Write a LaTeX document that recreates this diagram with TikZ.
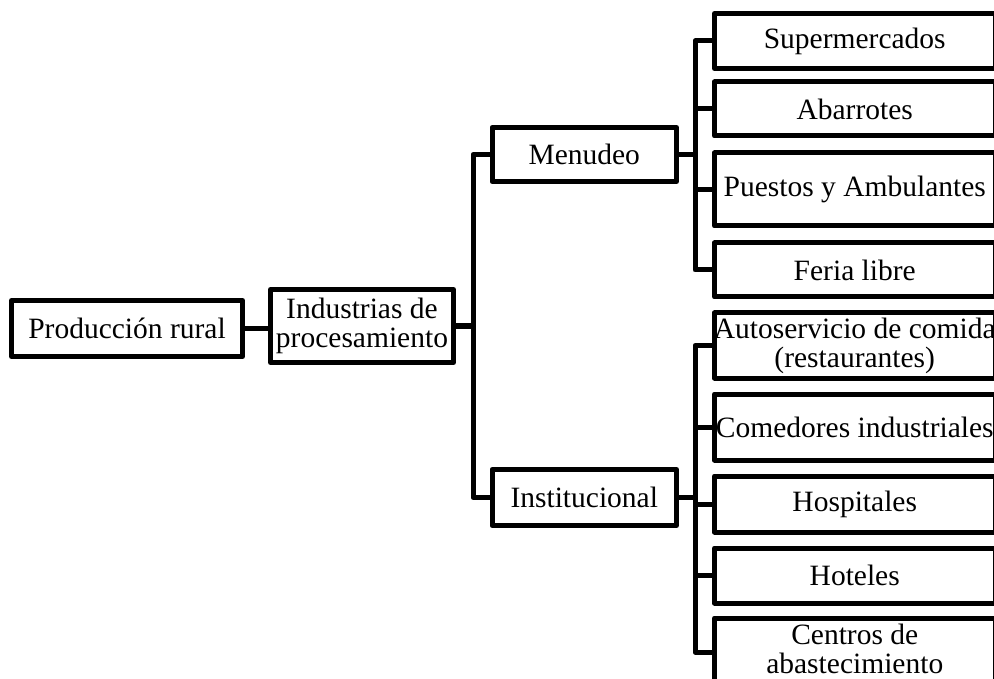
\documentclass[tikz,border=0pt]{standalone}
\usepackage{fontspec}
\setmainfont{Liberation Serif}
\begin{document}
\begin{tikzpicture}[x=1pt,y=-1pt,
  bx/.style={draw, rectangle, line width=5pt, line join=round, inner sep=0pt, outer sep=0pt},
  lbl/.style={inner sep=0pt, align=center, font=\fontsize{29.5}{29}\selectfont},
  ln/.style={line width=5pt, line join=round}]
\useasboundingbox[fill=white] (0,0) rectangle (994,679);
\clip (0,0) rectangle (994,679);
% boxes
\node[bx, minimum width=231pt, minimum height=56pt] (prod) at (127,328.5) {};
\node[bx, minimum width=183pt, minimum height=73pt] (ind) at (362,326) {};
\node[bx, minimum width=184.5pt, minimum height=54pt] (men) at (584.25,154.5) {};
\node[bx, minimum width=184.5pt, minimum height=56pt] (ins) at (584.25,497.5) {};
\node[bx, minimum width=280.5pt, minimum height=55pt] (sup) at (854.75,41) {};
\node[bx, minimum width=280.5pt, minimum height=54pt] (aba) at (854.75,109) {};
\node[bx, minimum width=280.5pt, minimum height=73pt] (pue) at (854.75,189.5) {};
\node[bx, minimum width=280.5pt, minimum height=54pt] (fer) at (854.75,270) {};
\node[bx, minimum width=280.5pt, minimum height=65pt] (aut) at (854.75,345.5) {};
\node[bx, minimum width=280.5pt, minimum height=66pt] (com) at (854.75,427) {};
\node[bx, minimum width=280.5pt, minimum height=56pt] (hos) at (854.75,504) {};
\node[bx, minimum width=280.5pt, minimum height=55pt] (hot) at (854.75,575.5) {};
\node[bx, minimum width=280.5pt, minimum height=82pt] (cen) at (854.75,659) {};
% labels
\node[lbl] (tprod) at (prod) {Producción rural};
\node[lbl] (tind) at (ind) {Industrias de\\procesamiento};
\node[lbl] (tmen) at (men) {Menudeo};
\node[lbl] (tins) at (ins) {Institucional};
\node[lbl] (tsup) at (sup) {Supermercados};
\node[lbl] (taba) at (aba) {Abarrotes};
\node[lbl] (tpue) at (pue) {Puestos y Ambulantes};
\node[lbl] (tfer) at (fer) {Feria libre};
\node[lbl] (taut) at (aut) {Autoservicio de comida\\(restaurantes)};
\node[lbl] (tcom) at (com) {Comedores industriales};
\node[lbl] (thos) at (hos) {Hospitales};
\node[lbl] (thot) at (hot) {Hoteles};
\node[lbl] (tcen) at (854.75,648.5) {Centros de\\abastecimiento};
% connectors
\coordinate (s1) at (473,326);
\coordinate (s2) at (695,154.5);
\coordinate (s3) at (695,497.5);
\coordinate (cent) at ([yshift=7pt]cen.west);
\draw[ln] (prod.east) -- (prod.east -| ind.west);
\draw[ln] (ind.east) -- (s1);
\draw[ln] (men.west) -| (s1) |- (ins.west);
\draw[ln] (men.east) -- (s2);
\draw[ln] (sup.west) -| (s2) |- (fer.west);
\draw[ln] (aba.west) -- (aba.west -| s2);
\draw[ln] (pue.west) -- (pue.west -| s2);
\draw[ln] (ins.east) -- (s3);
\draw[ln] (aut.west) -| (s3) |- (cent);
\draw[ln] (com.west) -- (com.west -| s3);
\draw[ln] (hos.west) -- (hos.west -| s3);
\draw[ln] (hot.west) -- (hot.west -| s3);
\end{tikzpicture}
\end{document}
